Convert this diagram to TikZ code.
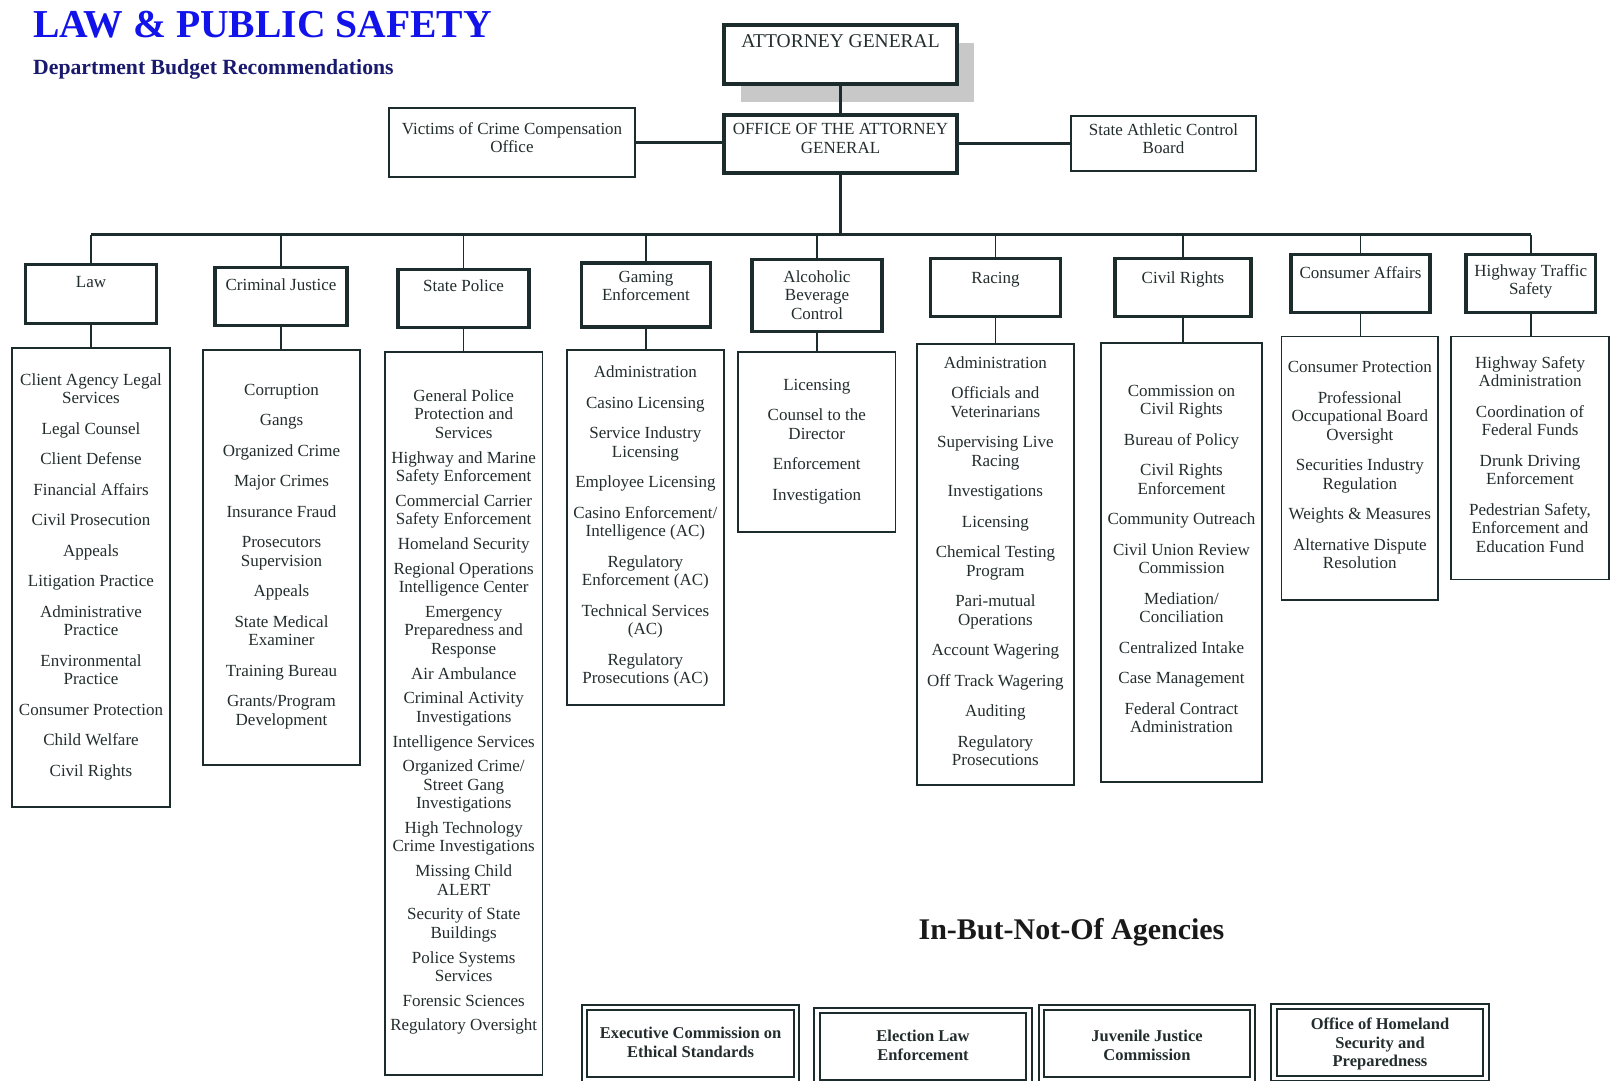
\documentclass[tikz,border=0pt]{standalone}
\usepackage{fontspec}
\setmainfont{Liberation Serif}
\usetikzlibrary{positioning, shadows}

\definecolor{inkline}{RGB}{28,44,44}
\definecolor{inktext}{RGB}{35,45,45}
\definecolor{titleblue}{RGB}{18,18,235}
\definecolor{subnavy}{RGB}{25,25,110}
\definecolor{shadowgray}{RGB}{200,200,200}

\newcommand{\boxfont}{\fontsize{17}{18.5}\selectfont}
\newcommand{\boldboxfont}{\fontsize{16.5}{18.5}\selectfont\bfseries}
% width, height, first baseline, text
\newcommand{\boxtext}[4]{\parbox[c][#2pt][t]{#1pt}{\centering\rule{0pt}{#3pt}#4\par}}
\newcommand{\nxt}{\\[12pt]}
\newcommand{\nxs}{\\[6.2pt]}

\tikzset{
  unitbox/.style={draw=inkline, fill=white, inner sep=0pt, anchor=north, text=inktext, font=\boxfont},
  topbox/.style={unitbox, line width=3.5pt},
  sidebox/.style={unitbox, line width=2.2pt},
  deptbox/.style={unitbox, line width=3.2pt},
  listbox/.style={unitbox, line width=1.8pt},
  agencybox/.style={unitbox, line width=1.8pt, double=white, double distance=3.5pt, font=\boldboxfont},
  link/.style={draw=inkline, line width=1.8pt},
  trunk/.style={draw=inkline, line width=3pt}
}

\begin{document}
\begin{tikzpicture}[x=1pt, y=-1pt]
\useasboundingbox (0,0) rectangle (1614,1080);
\clip (0,0) rectangle (1614,1080);

% headings
\node[anchor=base west, inner sep=0pt, text=titleblue, font=\fontsize{39.6}{42}\selectfont\bfseries] (title) at (33,37) {LAW \& PUBLIC SAFETY};
\node[anchor=base west, inner sep=0pt, text=subnavy, font=\fontsize{21.7}{24}\selectfont\bfseries] (subtitle) at (33,74) {Department Budget Recommendations};

% attorney general and office
\node[topbox, drop shadow={shadow xshift=17pt, shadow yshift=-18pt, fill=shadowgray, opacity=1}] (ag) at (840.5,23) {\boxtext{233}{59}{23}{\fontsize{19.5}{20}\selectfont ATTORNEY GENERAL}};
\node[topbox] (oag) at (840.5,113) {\boxtext{233}{58}{20}{OFFICE OF THE ATTORNEY\\GENERAL}};
\node[sidebox] (vict) at (512,107) {\boxtext{246}{69}{26}{Victims of Crime Compensation\\Office}};
\node[sidebox] (athl) at (1163.5,115) {\boxtext{185}{55}{19}{State Athletic Control\\Board}};

\draw[trunk] (ag) -- (oag);
\draw[trunk] (vict.east) -- (vict.east -| oag.west);
\draw[trunk] (oag.east) -- (oag.east -| athl.west);
\coordinate (bus) at (840.5,234.7);
\draw[trunk] (oag) -- (bus);

% divisions
\node[deptbox] (law) at (91,262.5) {\boxtext{131}{59}{23}{Law}};
\node[deptbox] (cj) at (281,265.6) {\boxtext{132}{58}{23}{Criminal Justice}};
\node[deptbox] (sp) at (463.5,267.6) {\boxtext{131}{58}{22}{State Police}};
\node[deptbox] (ge) at (646,261.4) {\boxtext{128.5}{64}{19}{Gaming\\Enforcement}};
\node[deptbox] (abc) at (817,258) {\boxtext{130}{72}{22.5}{Alcoholic\\Beverage\\Control}};
\node[deptbox] (racing) at (995.5,257) {\boxtext{130}{58}{24.5}{Racing}};
\node[deptbox] (cr) at (1183,257) {\boxtext{136}{58}{24.5}{Civil Rights}};
\node[deptbox] (ca) at (1360.5,253) {\boxtext{139}{58}{23.5}{Consumer Affairs}};
\node[deptbox] (hts) at (1530.7,253) {\boxtext{129.5}{58}{21.5}{Highway Traffic\\Safety}};

\draw[trunk] (law.north |- bus) -- (hts.north |- bus);
\foreach \d in {law,cj,sp,ge,abc,racing,cr,ca,hts}
  \draw[link] (\d.north |- bus) -- (\d.north);

% programs of each division
\node[listbox] (law-list) at (91,347) {\boxtext{157.5}{459}{37.5}{Client Agency Legal\\Services\nxt
  Legal Counsel\nxt Client Defense\nxt Financial Affairs\nxt Civil Prosecution\nxt Appeals\nxt
  Litigation Practice\nxt Administrative\\Practice\nxt Environmental\\Practice\nxt
  Consumer Protection\nxt Child Welfare\nxt Civil Rights}};
\node[listbox] (cj-list) at (281.5,349) {\boxtext{157.5}{415}{45.5}{Corruption\nxt Gangs\nxt
  Organized Crime\nxt Major Crimes\nxt Insurance Fraud\nxt Prosecutors\\Supervision\nxt Appeals\nxt
  State Medical\\Examiner\nxt Training Bureau\nxt Grants/Program\\Development}};
\node[listbox] (sp-list) at (463.7,351) {\boxtext{157.5}{723}{49.5}{General Police\\Protection and\\Services\nxs
  Highway and Marine\\Safety Enforcement\nxs Commercial Carrier\\Safety Enforcement\nxs
  Homeland Security\nxs Regional Operations\\Intelligence Center\nxs
  Emergency\\Preparedness and\\Response\nxs Air Ambulance\nxs
  Criminal Activity\\Investigations\nxs Intelligence Services\nxs
  Organized Crime/\\Street Gang\\Investigations\nxs High Technology\\Crime Investigations\nxs
  Missing Child\\ALERT\nxs Security of State\\Buildings\nxs Police Systems\\Services\nxs
  Forensic Sciences\nxs Regulatory Oversight}};
\node[listbox] (ge-list) at (645.4,349) {\boxtext{156.5}{355}{28}{Administration\nxt Casino Licensing\nxt
  Service Industry\\Licensing\nxt Employee Licensing\nxt Casino Enforcement/\\Intelligence (AC)\nxt
  Regulatory\\Enforcement (AC)\nxt Technical Services\\(AC)\nxt Regulatory\\Prosecutions (AC)}};
\node[listbox] (abc-list) at (816.8,351) {\boxtext{157.5}{180}{38.5}{Licensing\nxt
  Counsel to the\\Director\nxt Enforcement\nxt Investigation}};
\node[listbox] (racing-list) at (995.4,343) {\boxtext{156.5}{441}{24.5}{Administration\nxt
  Officials and\\Veterinarians\nxt Supervising Live\\Racing\nxt Investigations\nxt Licensing\nxt
  Chemical Testing\\Program\nxt Pari-mutual\\Operations\nxt Account Wagering\nxt
  Off Track Wagering\nxt Auditing\nxt Regulatory\\Prosecutions}};
\node[listbox] (cr-list) at (1181.5,342) {\boxtext{161}{439}{53.5}{Commission on\\Civil Rights\nxt
  Bureau of Policy\nxt Civil Rights\\Enforcement\nxt Community Outreach\nxt
  Civil Union Review\\Commission\nxt Mediation/\\Conciliation\nxt Centralized Intake\nxt
  Case Management\nxt Federal Contract\\Administration}};
\node[listbox] (ca-list) at (1359.8,335.5) {\boxtext{156.5}{263.5}{36.5}{Consumer Protection\nxt
  Professional\\Occupational Board\\Oversight\nxt Securities Industry\\Regulation\nxt
  Weights \& Measures\nxt Alternative Dispute\\Resolution}};
\node[listbox] (hts-list) at (1530,335.5) {\boxtext{158}{243}{32}{Highway Safety\\Administration\nxt
  Coordination of\\Federal Funds\nxt Drunk Driving\\Enforcement\nxt
  Pedestrian Safety,\\Enforcement and\\Education Fund}};

\foreach \d in {law,cj,sp,ge,abc,racing,cr,ca,hts}
  \draw[link] (\d.south) -- (\d.south |- \d-list.north);

% agencies in but not of the department
\node[anchor=base, inner sep=0pt, text=black!90, font=\fontsize{30}{33}\selectfont\bfseries] (inbut) at (1071.5,939.7) {In-But-Not-Of Agencies};
\node[agencybox] (ethics) at (690.6,1006.7) {\boxtext{212}{72}{31}{Executive Commission on\\Ethical Standards}};
\node[agencybox] (election) at (923,1009.7) {\boxtext{212}{72}{31}{Election Law\\Enforcement}};
\node[agencybox] (juvenile) at (1147,1006.7) {\boxtext{211}{72}{34}{Juvenile Justice\\Commission}};
\node[agencybox] (homeland) at (1380,1005.6) {\boxtext{212}{72}{23}{Office of Homeland\\Security and\\Preparedness}};
\end{tikzpicture}
\end{document}
